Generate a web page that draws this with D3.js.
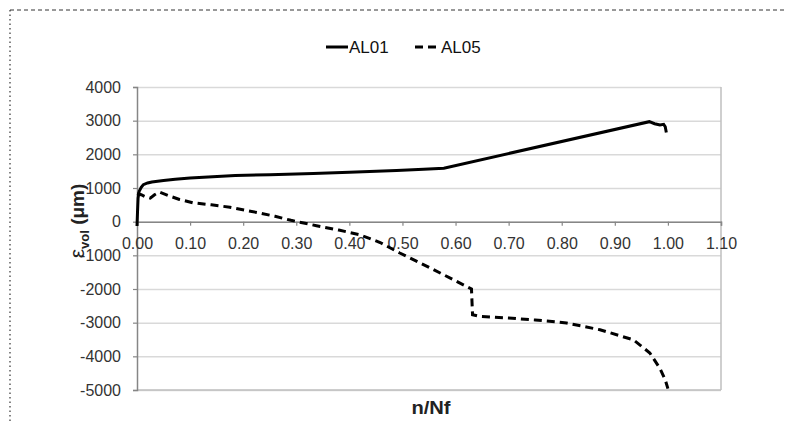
<!DOCTYPE html>
<html>
<head>
<meta charset="utf-8">
<script src="https://cdn.jsdelivr.net/npm/d3@7"></script>
<style>
  body { margin: 0; background: #fff; }
  svg { display: block; font-family: "Liberation Sans", Arial, sans-serif; }
</style>
</head>
<body>
<div id="container"></div>
<script>
var width = 787;
var height = 423;

// plot area
var plotLeft = 137, plotRight = 721, plotTop = 87, plotBottom = 390;

var seriesNames = ["AL01", "AL05"];
var xTicks = [0, 0.1, 0.2, 0.3, 0.4, 0.5, 0.6, 0.7, 0.8, 0.9, 1.0, 1.1];
var yTicks = [-5000, -4000, -3000, -2000, -1000, 0, 1000, 2000, 3000, 4000];

// n/Nf, eps_vol
var al01 = [
    [0.000, -130], [0.001, 300], [0.002, 700], [0.004, 900], [0.008, 1020],
    [0.012, 1100], [0.02, 1150], [0.028, 1180], [0.05, 1225], [0.072, 1260],
    [0.10, 1295], [0.134, 1330], [0.185, 1370], [0.25, 1395], [0.332, 1430],
    [0.40, 1465], [0.489, 1520], [0.54, 1560], [0.578, 1590], [0.965, 2970],
    [0.975, 2910], [0.985, 2870], [0.992, 2890], [0.995, 2820], [0.997, 2650]
];

var al05 = [
    [0.000, 830], [0.008, 800], [0.016, 740], [0.025, 700], [0.033, 800],
    [0.042, 880], [0.06, 770], [0.08, 660], [0.105, 560], [0.14, 500],
    [0.175, 430], [0.23, 260], [0.26, 160], [0.29, 40], [0.338, -120],
    [0.38, -250], [0.42, -390], [0.458, -620], [0.495, -930], [0.552, -1370],
    [0.630, -2000], [0.632, -2765], [0.646, -2815], [0.70, -2860], [0.75, -2920],
    [0.809, -3010], [0.872, -3210], [0.935, -3510], [0.966, -3900], [0.985, -4360],
    [0.995, -4700], [1.000, -4960]
];

var xScale = d3.scaleLinear().domain([0, 1.1]).range([plotLeft, plotRight]);
var yScale = d3.scaleLinear().domain([-5000, 4000]).range([plotBottom, plotTop]);

var svg = d3.select("#container")
    .append("svg")
    .attr("width", width)
    .attr("height", height);

// outer frame (dashed top, dotted left)
svg.append("line")
    .attr("x1", 10).attr("y1", 10).attr("x2", width).attr("y2", 10)
    .attr("stroke", "#333").attr("stroke-width", 1)
    .attr("stroke-dasharray", "4,3");
svg.append("line")
    .attr("x1", 10).attr("y1", 10).attr("x2", 10).attr("y2", height)
    .attr("stroke", "#333").attr("stroke-width", 1.2)
    .attr("stroke-dasharray", "1.5,3");

// gridlines
var grid = svg.append("g")
    .attr("transform", "translate(" + plotLeft + ",0)")
    .call(d3.axisLeft(yScale).tickValues(yTicks).tickSize(-(plotRight - plotLeft)).tickFormat(""));
grid.select(".domain").remove();
grid.selectAll("line").attr("stroke", "#d9d9d9").attr("stroke-width", 1.5);

// right and bottom border
svg.append("line")
    .attr("x1", plotRight).attr("y1", plotTop).attr("x2", plotRight).attr("y2", plotBottom)
    .attr("stroke", "#bfbfbf").attr("stroke-width", 1.5);
svg.append("line")
    .attr("x1", plotLeft).attr("y1", plotBottom).attr("x2", plotRight).attr("y2", plotBottom)
    .attr("stroke", "#bfbfbf").attr("stroke-width", 1.5);

// Y axis
var yAxis = svg.append("g")
    .attr("transform", "translate(" + plotLeft + ",0)")
    .call(d3.axisLeft(yScale).tickValues(yTicks).tickSize(4).tickPadding(12)
        .tickFormat(function (d) { return String(d); }));
yAxis.select(".domain").attr("stroke", "#868686").attr("stroke-width", 1.5);
yAxis.selectAll(".tick line").attr("stroke", "#868686").attr("stroke-width", 1.2);
yAxis.selectAll("text")
    .attr("font-size", "16px")
    .attr("font-family", "'Liberation Sans', Arial, sans-serif")
    .attr("fill", "#333");

// X axis at zero
var xAxis = svg.append("g")
    .attr("transform", "translate(0," + yScale(0) + ")")
    .call(d3.axisBottom(xScale).tickValues(xTicks).tickSize(4).tickPadding(12).tickFormat(d3.format(".2f")));
xAxis.select(".domain").attr("stroke", "#868686").attr("stroke-width", 1.5);
xAxis.selectAll(".tick line").attr("stroke", "#868686").attr("stroke-width", 1.2);
xAxis.selectAll("text")
    .attr("font-size", "16px")
    .attr("font-family", "'Liberation Sans', Arial, sans-serif")
    .attr("fill", "#333");

// lines
var line = d3.line()
    .x(function (d) { return xScale(d[0]); })
    .y(function (d) { return yScale(d[1]); });

svg.append("path")
    .datum(al05)
    .attr("d", line)
    .attr("fill", "none")
    .attr("stroke", "#000")
    .attr("stroke-width", 3)
    .attr("stroke-dasharray", "8,5");

svg.append("path")
    .datum(al01)
    .attr("d", line)
    .attr("fill", "none")
    .attr("stroke", "#000")
    .attr("stroke-width", 3);

// legend
var legend = svg.append("g").attr("transform", "translate(0,47)");
legend.append("line")
    .attr("x1", 326).attr("x2", 348).attr("y1", 0).attr("y2", 0)
    .attr("stroke", "#000").attr("stroke-width", 3);
legend.append("text")
    .attr("x", 349).attr("y", 6)
    .attr("font-size", "17px")
    .attr("fill", "#111")
    .text(seriesNames[0]);
legend.append("line")
    .attr("x1", 415).attr("x2", 438).attr("y1", 0).attr("y2", 0)
    .attr("stroke", "#000").attr("stroke-width", 3)
    .attr("stroke-dasharray", "8,5");
legend.append("text")
    .attr("x", 441).attr("y", 6)
    .attr("font-size", "17px")
    .attr("fill", "#111")
    .text(seriesNames[1]);

// X axis label
svg.append("text")
    .attr("transform", "translate(431,414) scale(1.12,1)")
    .attr("text-anchor", "middle")
    .attr("font-size", "18px")
    .attr("font-weight", "bold")
    .attr("fill", "#222")
    .text("n/Nf");

// Y axis label
var yl = svg.append("text")
    .attr("transform", "translate(84,221) rotate(-90)")
    .attr("text-anchor", "middle")
    .attr("font-size", "19px")
    .attr("font-weight", "bold")
    .attr("fill", "#222");
yl.append("tspan").attr("font-weight", "normal").attr("font-size", "21px").text("ε");
yl.append("tspan").attr("font-size", "13px").attr("dy", 5).text("vol");
yl.append("tspan").attr("dy", -5).text(" (μm)");
</script>
</body>
</html>
